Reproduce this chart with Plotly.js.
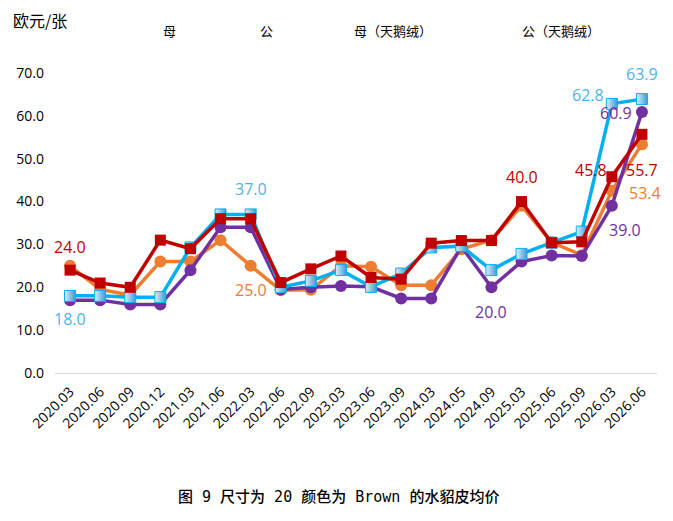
<!DOCTYPE html>
<html>
<head>
<meta charset="utf-8">
<script src="https://cdn.plot.ly/plotly-3.0.1.min.js"></script>
<style>
  html, body { margin: 0; padding: 0; background: #fff; }
  #chart { width: 673px; height: 521px; }
</style>
</head>
<body>
<div id="chart"></div>
<script>
const categories = ['2020.03', '2020.06', '2020.09', '2020.12', '2021.03', '2021.06', '2022.03',
  '2022.06', '2022.09', '2023.03', '2023.06', '2023.09', '2024.03', '2024.05', '2024.09',
  '2025.03', '2025.06', '2025.09', '2026.03', '2026.06'];

const female = [25, 19.5, 18.2, 26, 26, 31, 25, 19.3, 19.4, 25, 24.8, 20.5, 20.5, 28.9, 31,
  39, 30.5, 27.5, 42.5, 53.4];
const male = [17, 17, 16, 16, 24, 34, 34, 19.5, 20, 20.3, 20.1, 17.4, 17.4, 29.5, 20,
  26, 27.4, 27.3, 39, 60.9];
const femaleVelvet = [18, 18, 17.7, 17.7, 29.3, 37, 37, 20, 21.5, 24, 20.1, 23.2, 29.3, 29.6, 24,
  27.8, 30.4, 33, 62.8, 63.9];
const maleVelvet = [24, 21, 20, 31, 29, 36, 36, 21.1, 24.3, 27.3, 22.3, 21.9, 30.3, 30.9, 30.9,
  40, 30.4, 30.6, 45.8, 55.7];

const seriesNames = ['母', '公', '母（天鹅绒）', '公（天鹅绒）'];

const ORANGE = '#ED7D31';
const PURPLE = '#7030A0';
const BLUE = '#00B0F0';
const RED = '#C00000';

// the date strings look numeric to plotly, so plot on index positions and label the ticks
const xIdx = categories.map((c, i) => i);

const series = {
  female: { y: female, text: ORANGE },
  male: { y: male, text: PURPLE },
  femaleVelvet: { y: femaleVelvet, text: '#4DB3E8' },
  maleVelvet: { y: maleVelvet, text: RED }
};

const traces = [
  {
    name: seriesNames[0], x: xIdx, y: female, type: 'scatter', mode: 'lines+markers',
    line: { color: ORANGE, width: 3.5 },
    marker: { symbol: 'circle', size: 12, color: ORANGE }
  },
  {
    name: seriesNames[1], x: xIdx, y: male, type: 'scatter', mode: 'lines+markers',
    line: { color: PURPLE, width: 3.5 },
    marker: { symbol: 'circle', size: 12, color: PURPLE }
  },
  {
    name: seriesNames[2], x: xIdx, y: femaleVelvet, type: 'scatter', mode: 'lines+markers',
    line: { color: BLUE, width: 3.5 },
    marker: {
      symbol: 'square', size: 11, color: '#D8F0FC',
      gradient: { type: 'horizontal', color: '#3D9AD6' },
      line: { color: BLUE, width: 1 }
    }
  },
  {
    name: seriesNames[3], x: xIdx, y: maleVelvet, type: 'scatter', mode: 'lines+markers',
    line: { color: RED, width: 3.5 },
    marker: { symbol: 'square', size: 11, color: RED }
  }
];

// which points carry a value label, and where it sits relative to the point (px)
const pointLabels = [
  { s: 'maleVelvet', i: 0, dx: 0, dy: 23 },
  { s: 'femaleVelvet', i: 0, dx: 0, dy: -23 },
  { s: 'femaleVelvet', i: 6, dx: 0, dy: 25 },
  { s: 'female', i: 6, dx: 0, dy: -24 },
  { s: 'maleVelvet', i: 15, dx: 0, dy: 25 },
  { s: 'male', i: 14, dx: 0, dy: -25 },
  { s: 'male', i: 18, dx: 13, dy: -24 },
  { s: 'maleVelvet', i: 18, dx: -21, dy: 7 },
  { s: 'maleVelvet', i: 19, dx: 0, dy: -36 },
  { s: 'female', i: 19, dx: 3, dy: -49 },
  { s: 'femaleVelvet', i: 18, dx: -24, dy: 9 },
  { s: 'femaleVelvet', i: 19, dx: 0, dy: 25 },
  { s: 'male', i: 19, dx: -26, dy: -1 }
];

const annotations = pointLabels.map(l => ({
  x: xIdx[l.i], y: series[l.s].y[l.i], xref: 'x', yref: 'y',
  text: series[l.s].y[l.i].toFixed(1), showarrow: false,
  xshift: l.dx, yshift: l.dy,
  font: { family: 'Open Sans, Noto Sans, sans-serif', size: 16, color: series[l.s].text }
}));

// legend drawn as plain text, like the original
const legendX = [169, 266, 393, 561];
seriesNames.forEach((n, k) => annotations.push({
  x: (legendX[k] - 55) / 602, y: (373 - 30) / 300, xref: 'paper', yref: 'paper',
  text: n, showarrow: false, xanchor: 'center', yanchor: 'middle',
  font: { family: 'Noto Sans CJK SC, sans-serif', size: 13, color: '#000' }
}));

annotations.push({
  x: (11 - 55) / 602, y: (373 - 20) / 300, xref: 'paper', yref: 'paper',
  text: '欧元/张', showarrow: false, xanchor: 'left', yanchor: 'middle',
  font: { family: 'Noto Sans CJK SC, sans-serif', size: 16, color: '#000' }
});

annotations.push({
  x: (338 - 55) / 602, y: (373 - 497) / 300, xref: 'paper', yref: 'paper',
  text: '图 9 尺寸为 20 颜色为 Brown 的水貂皮均价', showarrow: false,
  xanchor: 'center', yanchor: 'middle',
  font: { family: 'DejaVu Sans Mono, Noto Sans CJK SC, sans-serif', size: 15, color: '#000', weight: 500 }
});

const layout = {
  width: 673,
  height: 521,
  margin: { l: 55, r: 16, t: 73, b: 148 },
  paper_bgcolor: '#fff',
  plot_bgcolor: '#fff',
  showlegend: false,
  font: { family: 'Open Sans, Noto Sans, sans-serif', color: '#000' },
  xaxis: {
    range: [-0.5, categories.length - 0.5],
    tickmode: 'array',
    tickvals: xIdx,
    ticktext: categories,
    tickangle: -45,
    ticklabelstandoff: 4,
    showgrid: false,
    zeroline: false,
    showline: true,
    linecolor: '#D9D9D9',
    linewidth: 1,
    ticks: '',
    tickfont: { size: 14, color: '#000' }
  },
  yaxis: {
    range: [0, 70],
    dtick: 10,
    tickformat: '.1f',
    ticklabelstandoff: 10,
    showgrid: false,
    zeroline: false,
    showline: false,
    ticks: '',
    tickfont: { size: 14, color: '#000' }
  },
  annotations: annotations
};

Plotly.newPlot('chart', traces, layout, { displayModeBar: false, staticPlot: true });
</script>
</body>
</html>
